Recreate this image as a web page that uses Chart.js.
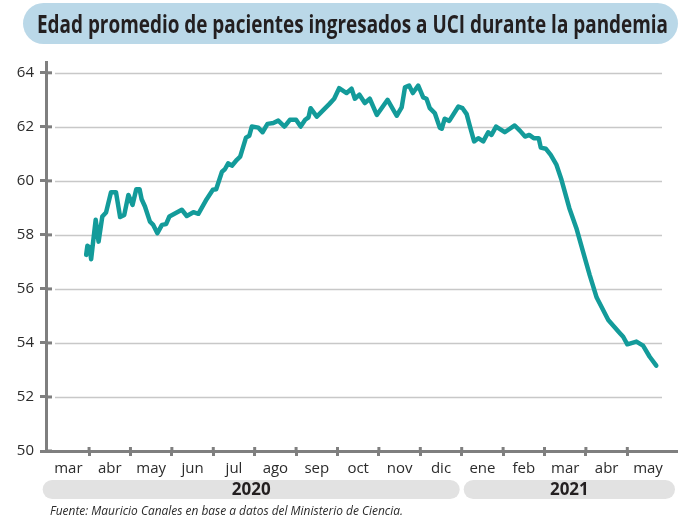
<!DOCTYPE html>
<html lang="es">
<head>
<meta charset="utf-8">
<title>Edad promedio de pacientes ingresados a UCI</title>
<script src="https://cdn.jsdelivr.net/npm/chart.js@4.4.0/dist/chart.umd.min.js"></script>
<style>
  html, body { margin: 0; padding: 0; background: #fff; }
  #contenedor { width: 680px; height: 519px; position: relative; }
</style>
</head>
<body>
<div id="contenedor"><canvas id="grafico"></canvas></div>
<script>
// Textos
const titulo = 'Edad promedio de pacientes ingresados a UCI durante la pandemia';
const fuente = 'Fuente: Mauricio Canales en base a datos del Ministerio de Ciencia.';

// Meses del eje X (mar 2020 a may 2021)
const meses = ['mar', 'abr', 'may', 'jun', 'jul', 'ago', 'sep', 'oct', 'nov', 'dic', 'ene', 'feb', 'mar', 'abr', 'may'];
// Años y el mes (índice) donde empieza cada uno
const anios = ['2020', '2021'];
const anioInicio = [0, 10];

// Ticks del eje Y
const ticksEdad = [50, 52, 54, 56, 58, 60, 62, 64];

// Posición en meses desde el 1 de marzo de 2020
const posicionMes = [
  0.93, 0.96, 1.01, 1.05, 1.16, 1.23, 1.32, 1.41, 1.53, 1.65,
  1.75, 1.85, 1.95, 2.05, 2.14, 2.22, 2.27, 2.35, 2.47, 2.55,
  2.65, 2.76, 2.86, 2.94, 3.24, 3.36, 3.52, 3.64, 3.84, 3.99,
  4.07, 4.21, 4.28, 4.36, 4.45, 4.57, 4.65, 4.79, 4.87, 4.93,
  5.09, 5.19, 5.31, 5.45, 5.57, 5.72, 5.85, 6.00, 6.11, 6.22,
  6.30, 6.35, 6.50, 6.80, 6.92, 7.04, 7.22, 7.34, 7.42, 7.53,
  7.66, 7.78, 7.95, 8.21, 8.43, 8.55, 8.63, 8.73, 8.82, 8.95,
  9.07, 9.15, 9.23, 9.35, 9.47, 9.52, 9.59, 9.70, 9.92, 10.02,
  10.12, 10.20, 10.30, 10.40, 10.52, 10.64, 10.72, 10.83, 11.04, 11.28,
  11.41, 11.53, 11.63, 11.74, 11.86, 11.91, 12.03, 12.15, 12.29, 12.41,
  12.60, 12.77, 12.93, 13.09, 13.26, 13.54, 13.80, 13.90, 14.00, 14.22,
  14.38, 14.54, 14.70
];
// Edad promedio (años)
const edadPromedio = [
  57.26, 57.60, 57.54, 57.10, 58.56, 57.75, 58.68, 58.83, 59.58, 59.58,
  58.66, 58.74, 59.48, 59.11, 59.69, 59.69, 59.32, 59.05, 58.49, 58.37,
  58.06, 58.37, 58.40, 58.68, 58.93, 58.70, 58.84, 58.78, 59.32, 59.67,
  59.69, 60.34, 60.43, 60.65, 60.56, 60.78, 60.90, 61.60, 61.67, 62.01,
  61.97, 61.80, 62.11, 62.14, 62.23, 62.01, 62.26, 62.26, 62.01, 62.26,
  62.35, 62.69, 62.38, 62.84, 63.04, 63.43, 63.25, 63.41, 63.04, 63.19,
  62.88, 63.04, 62.44, 63.00, 62.41, 62.72, 63.46, 63.53, 63.25, 63.53,
  63.09, 63.04, 62.69, 62.51, 61.97, 61.93, 62.30, 62.22, 62.75, 62.69,
  62.47, 62.01, 61.46, 61.58, 61.46, 61.80, 61.70, 62.01, 61.80, 62.05,
  61.85, 61.64, 61.70, 61.58, 61.58, 61.23, 61.19, 60.96, 60.59, 60.04,
  58.99, 58.25, 57.38, 56.52, 55.68, 54.85, 54.40, 54.23, 53.95, 54.05,
  53.90, 53.49, 53.16
];

const colorLinea = '#139b9a';
const colorEje = '#7f7f7f';
const colorTexto = '#231f20';

function pildora(ctx, x, y, w, h) {
  const r = h / 2;
  ctx.beginPath();
  ctx.moveTo(x + r, y);
  ctx.lineTo(x + w - r, y);
  ctx.arc(x + w - r, y + r, r, -Math.PI / 2, Math.PI / 2);
  ctx.lineTo(x + r, y + h);
  ctx.arc(x + r, y + r, r, Math.PI / 2, Math.PI * 1.5);
  ctx.closePath();
  ctx.fill();
}

// Escribe un texto ajustado a un ancho dado (la fuente original es condensada)
function textoAjustado(ctx, texto, x, y, ancho) {
  const w = ctx.measureText(texto).width;
  ctx.save();
  ctx.translate(x, y);
  ctx.scale(ancho / w, 1);
  ctx.fillText(texto, 0, 0);
  ctx.restore();
}

const decoraciones = {
  id: 'decoraciones',
  beforeDatasetsDraw(chart) {
    const { ctx, chartArea, scales: { x, y } } = chart;
    ctx.save();
    // líneas horizontales de la grilla
    ctx.strokeStyle = '#c8c8c8';
    ctx.lineWidth = 1.5;
    ticksEdad.forEach(v => {
      if (v === ticksEdad[0]) return;
      const py = Math.round(y.getPixelForValue(v)) + 0.5;
      ctx.beginPath();
      ctx.moveTo(chartArea.left + 9, py);
      ctx.lineTo(chartArea.right - 15, py);
      ctx.stroke();
    });
    // parte interior de las marcas de los ejes
    ctx.strokeStyle = colorEje;
    ctx.lineWidth = 3;
    ticksEdad.forEach(v => {
      const py = y.getPixelForValue(v);
      ctx.beginPath();
      ctx.moveTo(chartArea.left, py);
      ctx.lineTo(chartArea.left + 6, py);
      ctx.stroke();
    });
    for (let i = 1; i < meses.length; i++) {
      const px = x.getPixelForValue(i);
      ctx.beginPath();
      ctx.moveTo(px, chartArea.bottom);
      ctx.lineTo(px, chartArea.bottom - 4);
      ctx.stroke();
    }
    ctx.restore();
  },
  afterDraw(chart) {
    const { ctx, chartArea, scales: { x } } = chart;
    ctx.save();
    // título
    ctx.fillStyle = '#bad8e8';
    pildora(ctx, 23, 3, 655, 41);
    ctx.fillStyle = colorTexto;
    ctx.font = 'bold 25px "Open Sans"';
    ctx.textBaseline = 'alphabetic';
    textoAjustado(ctx, titulo, 37, 33, 631);

    // bandas de años
    anios.forEach((anio, i) => {
      const ini = x.getPixelForValue(anioInicio[i]);
      const fin = i + 1 < anios.length ? x.getPixelForValue(anioInicio[i + 1]) : chartArea.right;
      const x0 = i === 0 ? ini - 5 : ini + 2;
      const x1 = fin - 2;
      ctx.fillStyle = '#e2e2e2';
      pildora(ctx, x0, 480, x1 - x0, 19);
      ctx.fillStyle = colorTexto;
      ctx.font = 'bold 17px "Open Sans"';
      ctx.textAlign = 'center';
      ctx.textBaseline = 'middle';
      ctx.fillText(anio, (x0 + x1) / 2, 490);
    });

    // fuente
    ctx.fillStyle = '#2b2b2b';
    ctx.font = 'italic 13.5px "Open Sans"';
    ctx.textAlign = 'left';
    ctx.textBaseline = 'middle';
    textoAjustado(ctx, fuente, 50, 511, 353);
    ctx.restore();
  }
};

const ctx = document.getElementById('grafico').getContext('2d');
const grafico = new Chart(ctx, {
  type: 'line',
  data: {
    datasets: [{
      label: 'Edad promedio',
      data: posicionMes.map((m, i) => ({ x: m, y: edadPromedio[i] })),
      borderColor: colorLinea,
      borderWidth: 4.5,
      borderJoinStyle: 'round',
      borderCapStyle: 'round',
      pointRadius: 0,
      tension: 0,
      fill: false
    }]
  },
  options: {
    responsive: true,
    maintainAspectRatio: false,
    animation: false,
    devicePixelRatio: 1,
    layout: { padding: { top: 62, right: 3, bottom: 0, left: 0 } },
    plugins: {
      legend: { display: false },
      title: { display: false },
      tooltip: { enabled: false }
    },
    scales: {
      x: {
        type: 'linear',
        min: -0.04,
        max: 15.2,
        afterBuildTicks: (escala) => {
          const valores = [];
          for (let i = 0; i < meses.length; i++) {
            if (i > 0) valores.push({ value: i });
            valores.push({ value: i + 0.5 });
          }
          escala.ticks = valores;
        },
        afterFit: (escala) => { escala.height = 68; },
        border: { color: colorEje, width: 3 },
        grid: {
          drawOnChartArea: false,
          drawTicks: true,
          tickLength: 5,
          tickWidth: 3,
          tickColor: (c) => (c.tick && c.tick.value % 1 === 0) ? colorEje : 'rgba(0,0,0,0)'
        },
        ticks: {
          autoSkip: false,
          maxRotation: 0,
          padding: 4,
          color: '#2b2b2b',
          font: { family: '"Open Sans"', size: 15 },
          callback: (v) => (v % 1 === 0.5) ? meses[Math.floor(v)] : ''
        }
      },
      y: {
        min: 50,
        max: 64.4,
        afterBuildTicks: (escala) => { escala.ticks = ticksEdad.map(v => ({ value: v })); },
        afterFit: (escala) => { escala.width = 46; },
        border: { color: colorEje, width: 3 },
        grid: {
          drawOnChartArea: false,
          drawTicks: true,
          tickLength: 6,
          tickWidth: 3,
          tickColor: colorEje
        },
        ticks: {
          padding: 6,
          color: '#2b2b2b',
          font: { family: '"Open Sans"', size: 15 }
        }
      }
    }
  },
  plugins: [decoraciones]
});
</script>
</body>
</html>
